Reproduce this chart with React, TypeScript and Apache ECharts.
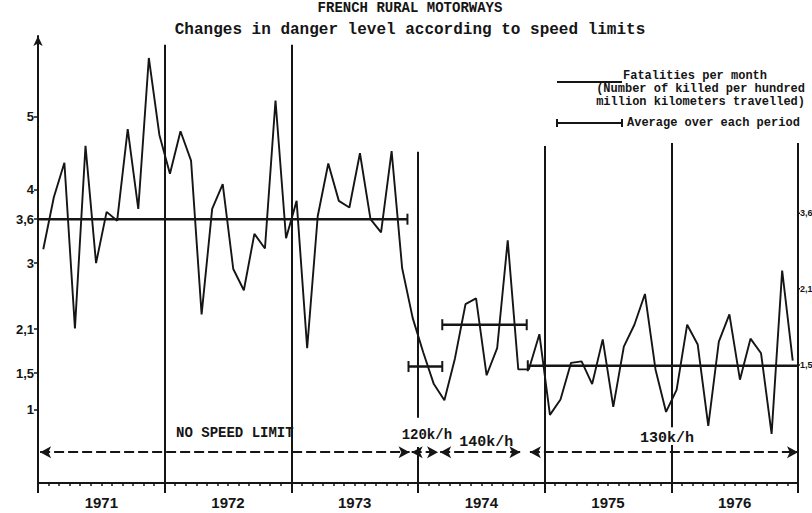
import React, { useEffect, useRef } from 'react';
import * as echarts from 'echarts';

// ---------- data ----------
const years = ['1971', '1972', '1973', '1974', '1975', '1976'];

// monthly fatalities (killed per hundred million km), Jan 1971 .. Dec 1976
const fatalities1971 = [3.19, 3.9, 4.37, 2.11, 4.6, 3.0, 3.7, 3.58, 4.83, 3.74, 5.8, 4.75];
const fatalities1972 = [4.22, 4.8, 4.4, 2.3, 3.74, 4.08, 2.92, 2.63, 3.4, 3.2, 5.22, 3.34];
const fatalities1973 = [3.85, 1.84, 3.64, 4.36, 3.85, 3.76, 4.5, 3.6, 3.42, 4.53, 2.93, 2.25];
const fatalities1974 = [1.78, 1.35, 1.13, 1.7, 2.44, 2.52, 1.47, 1.84, 3.31, 1.55, 1.55, 2.03];
const fatalities1975 = [0.93, 1.14, 1.64, 1.66, 1.35, 1.96, 1.04, 1.86, 2.16, 2.58, 1.55, 0.97];
const fatalities1976 = [1.27, 2.16, 1.89, 0.78, 1.93, 2.3, 1.41, 1.97, 1.77, 0.67, 2.9, 1.67];
const fatalities = [
  ...fatalities1971, ...fatalities1972, ...fatalities1973,
  ...fatalities1974, ...fatalities1975, ...fatalities1976,
];

// speed-limit periods (in months from Jan 1971)
const periodNames = ['NO SPEED LIMIT', '120k/h', '140k/h', '130k/h'];
const periodStart = [0, 35.1, 38.3, 46.4];
const periodEnd = [35, 38.3, 46.3, 72];
const periodAverage = [3.6, 1.59, 2.16, 1.6];
const arrowStart = [0.2, 35.4, 38.1, 46.6];
const arrowEnd = [35.2, 37.9, 45.7, 72];

// separators: month, from value, to value
const separatorMonths = [12, 24, 36, 36, 48, 60, 60, 72];
const separatorFrom = [0, 0, 0.89, 0, 0, 0.76, 0, 0];
const separatorTo = [5.98, 5.98, 4.52, 0.49, 4.6, 4.64, 0.52, 4.64];

// axis ticks
const yTickValues = [1, 1.5, 2.1, 3, 3.6, 4, 5];
const rightTickValues = [3.68, 2.65, 1.61];
const rightTickLabels = ['3,6', '2,1', '1,5'];

const C = '#151515';
const MONO = '"Liberation Mono", "DejaVu Sans Mono", monospace';
const SANS = '"Liberation Sans", Arial, sans-serif';

const labelDistance = [12, 10, 2, 6];
const labelSize = [14, 14, 15, 15];
const labelShift = [10, 2, 6, 3];

function txt(x: number, y: number, text: string, font: string, align = 'left') {
  return {
    type: 'text', x, y,
    style: { text, textAlign: align, align, textVerticalAlign: 'middle', verticalAlign: 'middle', font, fill: C },
  };
}

function baseGraphic() {
  return [
    txt(410, 8, 'FRENCH RURAL MOTORWAYS', `bold 14px ${MONO}`, 'center'),
    txt(410, 30, 'Changes in danger level according to speed limits', `bold 16px ${MONO}`, 'center'),
    { type: 'line', shape: { x1: 557, y1: 82, x2: 622, y2: 82 }, style: { stroke: C, lineWidth: 2 } },
    txt(623, 76, 'Fatalities per month', `bold 12px ${MONO}`),
    txt(805, 89, '(Number of killed per hundred', `bold 12px ${MONO}`, 'right'),
    txt(805, 102, 'million kilometers travelled)', `bold 12px ${MONO}`, 'right'),
    { type: 'line', shape: { x1: 557, y1: 123, x2: 622, y2: 123 }, style: { stroke: C, lineWidth: 2 } },
    { type: 'line', shape: { x1: 557, y1: 119, x2: 557, y2: 127 }, style: { stroke: C, lineWidth: 2 } },
    { type: 'line', shape: { x1: 622, y1: 119, x2: 622, y2: 127 }, style: { stroke: C, lineWidth: 2 } },
    txt(627, 123, 'Average over each period', `bold 12px ${MONO}`),
  ];
}

function buildOption() {
  const separators = separatorMonths.map((m, k) => [
    { coord: [m, separatorFrom[k]], symbol: 'none', lineStyle: { color: C, width: 2, type: 'solid' }, label: { show: false } },
    { coord: [m, separatorTo[k]], symbol: 'none' },
  ]);
  const arrows = periodNames.map((n, k) => [
    {
      coord: [arrowStart[k], 0.42],
      symbol: 'arrow',
      symbolSize: [9, 11],
      lineStyle: { color: C, width: 2, type: [10, 4] },
      label: {
        show: true,
        formatter: n,
        position: 'insideMiddleTop',
        distance: labelDistance[k],
        offset: [labelShift[k], 0],
        color: C,
        fontFamily: MONO,
        fontWeight: 'bold',
        fontSize: labelSize[k],
      },
    },
    { coord: [arrowEnd[k], 0.42], symbol: 'arrow', symbolSize: [9, 11] },
  ]);

  return {
    animation: false,
    backgroundColor: '#ffffff',
    grid: { left: 38, right: 14, top: 36, bottom: 30, containLabel: false },
    xAxis: [
      {
        type: 'value', min: 0, max: 72, interval: 6, position: 'bottom',
        axisLine: { show: true, lineStyle: { color: C, width: 2 } },
        axisTick: { show: true, length: 3, lineStyle: { color: C, width: 1.5 } },
        minorTick: { show: true, splitNumber: 6, length: 3, lineStyle: { color: C, width: 1.5 } },
        axisLabel: {
          formatter: (v: number) => (Math.round(v) % 12 === 6 ? years[(Math.round(v) - 6) / 12] : ''),
          margin: 12, color: C, fontFamily: SANS, fontWeight: 'bold', fontSize: 15,
        },
        splitLine: { show: false }, minorSplitLine: { show: false },
      },
      {
        type: 'value', min: 0, max: 72, interval: 12, position: 'bottom',
        axisLine: { show: false },
        axisTick: { show: true, length: 10, lineStyle: { color: C, width: 2 } },
        axisLabel: { show: false }, splitLine: { show: false },
      },
    ],
    yAxis: [
      {
        type: 'value', min: 0, max: 6.1, position: 'left',
        axisLine: { show: true, symbol: ['none', 'arrow'], symbolSize: [7, 10], lineStyle: { color: C, width: 2 } },
        axisTick: { show: true, customValues: yTickValues, length: 4, lineStyle: { color: C, width: 1.5 } },
        axisLabel: {
          customValues: yTickValues,
          formatter: (v: number) => String(v).replace('.', ','),
          margin: 4, color: C, fontFamily: SANS, fontWeight: 'bold', fontSize: 13,
        },
        splitLine: { show: false },
      },
    ],
    series: [
      {
        name: 'Fatalities per month',
        type: 'line',
        xAxisIndex: 0, yAxisIndex: 0,
        data: fatalities.map((v, i) => [i + 0.5, v]),
        showSymbol: false, symbol: 'none',
        lineStyle: { color: C, width: 1.9 },
        itemStyle: { color: C },
        z: 3,
        markLine: {
          silent: true, animation: false,
          symbol: ['none', 'none'],
          label: { show: false },
          data: [...separators, ...arrows],
        },
      },
      ...periodAverage.map((a, k) => ({
        name: 'Average over each period',
        type: 'line',
        xAxisIndex: 0, yAxisIndex: 0,
        data: [[periodStart[k], a], [periodEnd[k], a]],
        symbol: 'rect', symbolSize: [2, 11], showSymbol: true,
        lineStyle: { color: C, width: 2.5 },
        itemStyle: { color: C },
        z: 4,
      })),
    ],
    graphic: baseGraphic(),
  };
}

export default function App() {
  const ref = useRef<HTMLDivElement>(null);
  useEffect(() => {
    if (!ref.current) return;
    const chart = echarts.init(ref.current, undefined, { renderer: 'svg' });
    chart.setOption(buildOption() as any);
    // right-hand labels placed through the value scale
    const xr = chart.convertToPixel({ xAxisIndex: 0 }, 72) as number;
    const rightLabels: any[] = [];
    rightTickValues.forEach((v, i) => {
      const y = chart.convertToPixel({ yAxisIndex: 0 }, v) as number;
      rightLabels.push({ type: 'line', shape: { x1: xr, y1: y, x2: xr + 2, y2: y }, style: { stroke: C, lineWidth: 1.5 } });
      rightLabels.push(txt(xr + 2, y, rightTickLabels[i], `bold 9px ${SANS}`));
    });
    chart.setOption({ graphic: [...baseGraphic(), ...rightLabels] } as any);
    return () => chart.dispose();
  }, []);
  return (
    <div
      ref={ref}
      style={{ position: 'fixed', left: 0, top: 0, width: 812, height: 513, background: '#fff' }}
    />
  );
}
